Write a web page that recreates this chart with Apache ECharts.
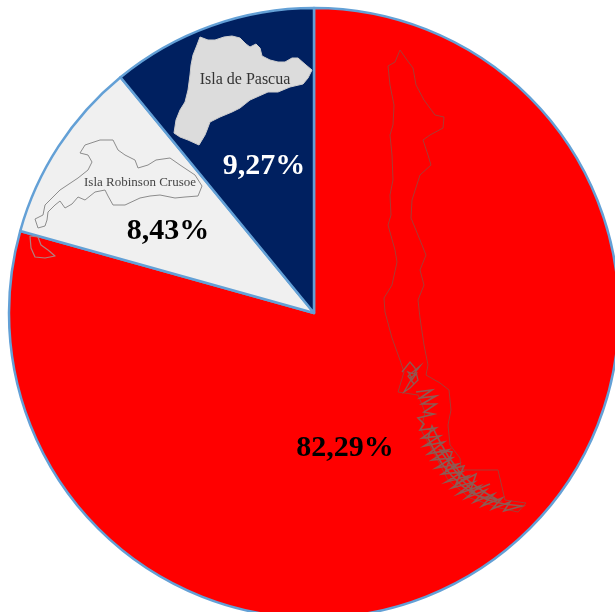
<!DOCTYPE html>
<html>
<head>
<meta charset="utf-8">
<style>html,body{margin:0;padding:0;background:#fff}#PieChart{width:615px;height:612px}</style>
<script src="https://cdn.jsdelivr.net/npm/echarts@6/dist/echarts.min.js"></script>
</head>
<body>
<div id="PieChart"></div>
<script>
var categories = ['Chile continental', 'Isla Robinson Crusoe', 'Isla de Pascua'];
// printed percentages
var labels = ['82,29%', '8,43%', '9,27%'];
var shares = [79.33, 9.73, 10.94];
var colors = ['#ff0000', '#f0f0f0', '#002060'];
var labelColors = ['#000000', '#000000', '#ffffff'];
var labelPos = [[345, 448], [168, 231], [264, 166]];

// map outlines, decoration only
var pascua = [[200,37],[208,40],[215,40],[224,37],[232,36],[240,38],[246,44],[250,47],[256,44],[260,48],[262,56],[270,60],[278,62],[285,62],[292,58],[298,58],[306,65],[312,70],[308,78],[303,84],[290,87],[278,92],[268,92],[250,100],[240,108],[232,112],[220,117],[210,122],[207,130],[205,135],[199,145],[188,140],[180,137],[174,133],[176,120],[180,110],[185,102],[188,90],[190,75],[191,65],[193,55],[197,45]];
var robinson = [[80,153],[85,145],[100,140],[113,140],[118,150],[125,155],[135,160],[138,168],[148,165],[156,160],[170,158],[180,165],[195,175],[202,186],[198,196],[185,197],[175,198],[160,195],[150,196],[140,198],[125,205],[113,205],[108,196],[105,190],[95,192],[85,200],[78,197],[72,204],[65,208],[60,201],[55,205],[48,212],[47,220],[45,226],[38,228],[35,219],[43,215],[45,205],[52,198],[60,190],[78,178],[88,170],[92,162],[88,155]];
var selkirk = [[30,236],[38,237],[41,245],[48,250],[55,256],[45,258],[35,257],[31,248]];
var chileOuter = [[400,50],[407,60],[413,68],[416,85],[424,100],[435,115],[444,117],[443,128],[430,135],[423,140],[428,155],[431,165],[420,175],[412,200],[411,218],[420,240],[426,255],[420,270],[424,285],[418,300],[420,318],[424,345],[428,365],[426,375],[440,383],[449,390],[451,410],[448,425],[450,445],[460,458],[461,470],[498,470],[505,500],[526,503],[518,512],[500,508],[470,498],[448,480],[435,455],[421,430],[425,412],[418,395],[398,392],[404,372],[400,360],[392,338],[385,312],[384,298],[392,285],[397,262],[395,250],[388,225],[391,215],[390,195],[393,180],[392,155],[390,135],[393,125],[394,105],[390,85],[388,66],[395,62]];
var chileSouth = [[416,392],[432,390],[420,398],[436,396],[422,404],[436,404],[424,412],[434,414],[418,418],[424,424],[420,430],[436,428],[422,438],[440,436],[424,446],[444,442],[428,454],[448,450],[432,460],[452,458],[436,468],[458,464],[442,474],[462,472],[446,482],[468,476],[452,488],[474,482],[458,494],[480,486],[466,498],[486,490],[474,502],[494,494],[482,506],[502,498],[492,509],[510,502],[504,511],[522,506],[504,504],[488,500],[474,494],[462,486],[452,476],[442,464],[434,450],[428,438],[432,426],[440,442],[448,456],[458,470],[470,482],[484,492],[498,500],[478,496],[462,480],[450,464],[440,450],[452,452],[446,470],[464,466],[456,484],[476,474],[470,492],[490,484]];
var chileMid = [[402,372],[410,362],[415,368],[418,380],[410,388],[404,392],[412,378],[408,372],[414,374],[420,366],[408,376],[414,384],[410,378],[416,374],[412,380]];

function outline(pts, stroke, width, fill) {
    return {
        type: 'polygon',
        silent: true,
        z: 20,
        shape: {points: pts},
        style: {fill: fill || 'none', stroke: stroke, lineWidth: width, lineJoin: 'round'}
    };
}

var myChart = echarts.init(document.getElementById('PieChart'), null, {renderer: 'canvas'});

var pieData = [];
for (var i = 0; i < shares.length; i++) {
    pieData.push({
        name: categories[i],
        value: shares[i],
        itemStyle: {color: colors[i]},
        label: {formatter: labels[i], color: labelColors[i]}
    });
}

var option = {
    animation: false,
    backgroundColor: '#ffffff',
    series: [
        {
            type: 'pie',
            center: [314, 313],
            radius: [0, 305],
            startAngle: 90,
            clockwise: true,
            silent: true,
            data: pieData,
            itemStyle: {borderColor: '#63a0d6', borderWidth: 2.5},
            label: {
                show: true,
                position: 'inside',
                fontFamily: 'Liberation Serif',
                fontWeight: 'bold',
                fontSize: 30
            },
            labelLine: {show: false},
            labelLayout: function (params) {
                var p = labelPos[params.dataIndex];
                return {x: p[0], y: p[1], align: 'center', verticalAlign: 'middle'};
            }
        }
    ],
    graphic: [
        outline(pascua, '#d0d0d0', 1, '#dcdcdc'),
        outline(robinson, '#8c8c8c', 1),
        outline(selkirk, '#b08080', 1.2),
        outline(chileOuter, '#a83c34', 1),
        {type: 'polyline', silent: true, z: 20, shape: {points: chileSouth}, style: {fill: 'none', stroke: '#8f5a52', lineWidth: 1.6}},
        {type: 'polyline', silent: true, z: 20, shape: {points: chileMid}, style: {fill: 'none', stroke: '#8f5a52', lineWidth: 1.3}},
        {type: 'text', silent: true, z: 21, x: 245, y: 80, style: {text: 'Isla de Pascua', fill: '#333333', font: '16px "Liberation Serif"', align: 'center', verticalAlign: 'middle'}},
        {type: 'text', silent: true, z: 21, x: 140, y: 183, style: {text: 'Isla Robinson Crusoe', fill: '#444444', font: '13px "Liberation Serif"', align: 'center', verticalAlign: 'middle'}}
    ]
};
myChart.setOption(option);
</script>
</body>
</html>
